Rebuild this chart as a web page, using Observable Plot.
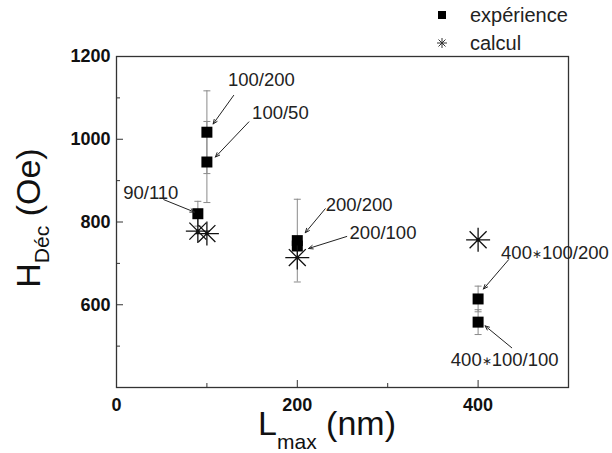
<!DOCTYPE html>
<html>
<head>
<meta charset="utf-8">
<script src="https://cdn.jsdelivr.net/npm/d3@7"></script>
<script src="https://cdn.jsdelivr.net/npm/@observablehq/plot@0.6"></script>
<style>
  html, body { margin: 0; padding: 0; background: #fff; }
  #wrap { width: 612px; position: relative; font-family: "Liberation Sans", Arial, sans-serif; }
  #legend { position: relative; height: 40px; width: 612px; }
  #legend .item { position: absolute; left: 432px; font-size: 20px; color: #222; line-height: 20px; z-index: 2; }
  #legend .sw { display: inline-block; width: 20px; height: 20px; vertical-align: top; }
  #legend .lab { position: absolute; left: 38px; top: 0; white-space: nowrap; }
  svg { display: block; }
</style>
</head>
<body>
<div id="wrap">
  <div id="legend"></div>
  <div id="chart"></div>
</div>
<script>
// ---- data ----
const expLabels = ["90/110", "100/200", "100/50", "200/200", "200/100", "400∗100/200", "400∗100/100"];
const expL = [90, 100, 100, 200, 200, 400, 400];
const expH = [820, 1017, 945, 755, 742, 614, 558];
const expErr = [30, 100, 98, 100, 10, 31, 30];

const calcL = [90, 100, 200, 400];
const calcH = [778, 772, 714, 757];

// annotation label anchors (data units) and arrow start/end (data units)
const labelL = [7.4, 123.3, 150, 231.4, 257.8, 425.4, 369.8];
const labelH = [871, 1142, 1064, 842, 773, 726, 467];
const arrowL1 = [52.3, 129.6, 146.4, 230.9, 254.7, 433.8, 437.2];
const arrowH1 = [854, 1106, 1042, 832, 765, 709, 496];
const arrowL2 = [86.2, 106.9, 109.4, 208.8, 212.5, 405.9, 407.7];
const arrowH2 = [824, 1037, 957, 774, 736, 638, 549];

const xTicks = [0, 200, 400];
const xMinor = [100, 300];
const yTicks = [600, 800, 1000, 1200];
const yMinor = [500, 700, 900, 1100];

const seriesNames = ["expérience", "calcul"];

// ---- tables ----
const exp = expL.map((L, i) => ({L, H: expH[i], err: expErr[i], label: expLabels[i]}));
const calc = calcL.map((L, i) => ({L, H: calcH[i]}));
const caps = exp.flatMap(d => [{L: d.L, H: d.H - d.err}, {L: d.L, H: d.H + d.err}]);
const labels = expLabels.map((t, i) => ({t, L: labelL[i], H: labelH[i]}));
const arrows = expLabels.map((t, i) => ({L1: arrowL1[i], H1: arrowH1[i], L2: arrowL2[i], H2: arrowH2[i]}));

// custom symbols
const starSymbol = {
  draw(ctx, size) {
    const r = Math.sqrt(size / Math.PI);
    for (let k = 0; k < 4; k++) {
      const a = k * Math.PI / 4;
      const c = Math.cos(a) * r, s = Math.sin(a) * r;
      ctx.moveTo(-c, -s);
      ctx.lineTo(c, s);
    }
  }
};
const capSymbol = {
  draw(ctx, size) {
    const r = Math.sqrt(size / Math.PI);
    ctx.moveTo(-r, 0);
    ctx.lineTo(r, 0);
  }
};

const font = "Liberation Sans, Arial, sans-serif";
const fmt = d3.format("d");

const chart = Plot.plot({
  width: 612,
  height: 413,
  marginTop: 16,
  marginLeft: 116,
  marginRight: 44,
  marginBottom: 66,
  style: {fontFamily: font, background: "transparent", color: "#111", overflow: "visible"},
  x: {domain: [0, 500], label: null},
  y: {domain: [400, 1200], label: null},
  marks: [
    Plot.axisX({ticks: xTicks, tickSize: -7, tickPadding: 18, tickFormat: fmt, fontSize: 18, fontWeight: "bold", stroke: "#333", fill: "#111", label: null}),
    Plot.axisX({ticks: xMinor, tickSize: -4, tickFormat: () => "", stroke: "#333", label: null}),
    Plot.axisY({ticks: yTicks, tickSize: -7, tickPadding: 13, tickFormat: fmt, fontSize: 18, fontWeight: "bold", stroke: "#333", fill: "#111", label: null}),
    Plot.axisY({ticks: yMinor, tickSize: -4, tickFormat: () => "", stroke: "#333", label: null}),
    Plot.frame({stroke: "#333", strokeWidth: 1.3}),
    Plot.ruleX(exp, {x: "L", y1: d => d.H - d.err, y2: d => d.H + d.err, stroke: "#8a8a8a", strokeWidth: 1}),
    Plot.dot(caps, {x: "L", y: "H", symbol: capSymbol, r: 3.5, stroke: "#8a8a8a", strokeWidth: 1}),
    Plot.dot(exp, {x: "L", y: "H", symbol: "square", r: 6.2, fill: "#000", stroke: "none"}),
    Plot.dot(calc, {x: "L", y: "H", symbol: starSymbol, r: 12, stroke: "#111", strokeWidth: 1.3, fill: "none"}),
    Plot.dot(calc, {x: "L", y: "H", r: 1.6, fill: "#111"}),
    Plot.arrow(arrows, {x1: "L1", y1: "H1", x2: "L2", y2: "H2", stroke: "#222", strokeWidth: 1, headLength: 7, headAngle: 45}),
    Plot.text(labels, {x: "L", y: "H", text: "t", textAnchor: "start", fontSize: 18.5, fill: "#222"})
  ]
});

const svg = d3.select(chart);

// shrink the multiplication asterisk inside annotation labels
svg.selectAll("text").each(function() {
  const el = d3.select(this);
  if (this.querySelector("tspan")) return;
  const t = this.textContent;
  if (!t.includes("∗")) return;
  const parts = t.split("∗");
  el.text(null);
  parts.forEach((p, i) => {
    if (i > 0) el.append("tspan").attr("font-size", 12).attr("dy", -1).text("∗");
    el.append("tspan").attr("dy", i > 0 ? 1 : null).text(p);
  });
});

// axis titles with subscripts
const xt = svg.append("text")
  .attr("x", 327).attr("y", 395)
  .attr("text-anchor", "middle")
  .attr("font-family", font).attr("font-size", 34).attr("fill", "#111");
xt.append("tspan").text("L");
xt.append("tspan").attr("font-size", 21).attr("dy", 14).text("max");
xt.append("tspan").attr("font-size", 34).attr("dy", -14).text(" (nm)");

const yt = svg.append("text")
  .attr("transform", "translate(40,178) rotate(-90)")
  .attr("text-anchor", "middle")
  .attr("font-family", font).attr("font-size", 34).attr("fill", "#111");
yt.append("tspan").text("H");
yt.append("tspan").attr("font-size", 21).attr("dy", 9).text("Déc");
yt.append("tspan").attr("font-size", 34).attr("dy", -9).text(" (Oe)");

document.getElementById("chart").appendChild(chart);

// legend
const legend = document.getElementById("legend");
const swatches = [
  '<svg class="sw" width="20" height="20"><rect x="6" y="6" width="8" height="8" fill="#000"/></svg>',
  '<svg class="sw" width="20" height="20"><g stroke="#333" stroke-width="1" transform="translate(10,10)"><line x1="-5" y1="0" x2="5" y2="0"/><line x1="0" y1="-5" x2="0" y2="5"/><line x1="-3.5" y1="-3.5" x2="3.5" y2="3.5"/><line x1="-3.5" y1="3.5" x2="3.5" y2="-3.5"/></g></svg>'
];
const tops = [5, 33];
seriesNames.forEach((name, i) => {
  const item = document.createElement("div");
  item.className = "item";
  item.style.top = tops[i] + "px";
  item.innerHTML = swatches[i] + '<span class="lab"></span>';
  item.querySelector(".lab").textContent = name;
  legend.appendChild(item);
});
</script>
</body>
</html>
